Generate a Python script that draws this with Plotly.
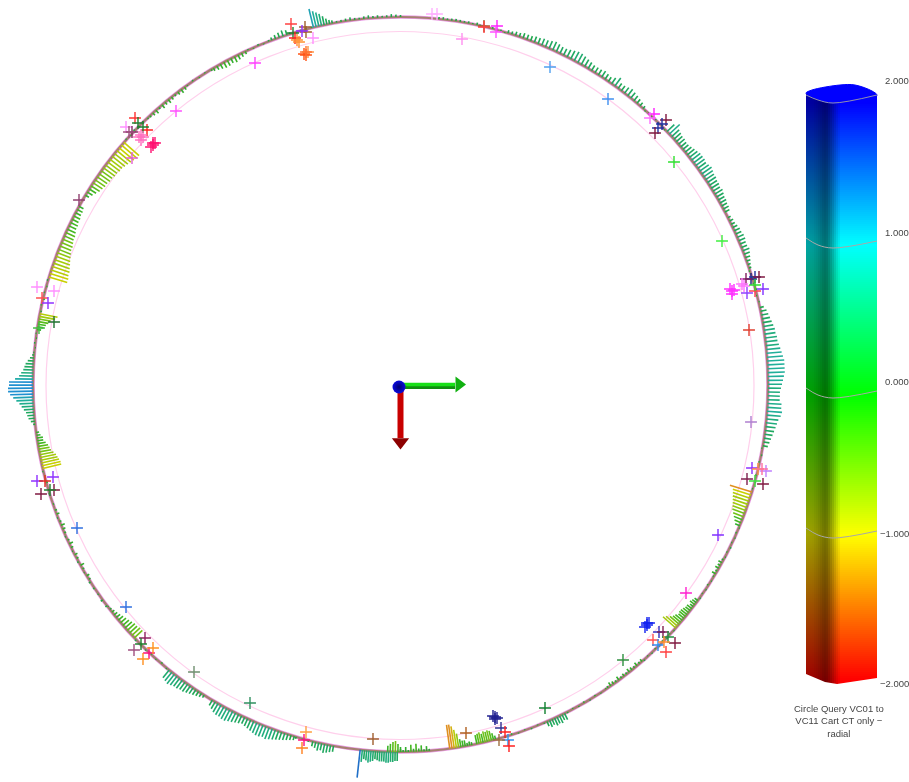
import numpy as np
import plotly.graph_objects as go
from plotly.colors import sample_colorscale

W, H = 909, 782
CX, CY = 400.5, 384.5          # centre of the measured circle
R_OUTER = 367.5
R_INNER = 354.0
UNIT = 20.0                    # radial length of one deviation unit

# needle clusters: azimuth span (deg, clockwise from north) and the deviation of each needle
arc_start = [6, 17, 46.5, 63, 77.9, 107, 118.5, 126, 138.9, 153.5, 165, 168.8, 175.5, 180, 180.5, 190.5,
             196.8, 212.3, 226.4, 238, 256.8, 263.8, 278.6, 287, 301, 317, 329.4, 339.5, 346.3, 350,
             12.5, 41.8, 72, 100, 113, 121.5, 132, 146, 157, 194.5, 219.5, 233, 251, 275, 281.5, 311.8, 324.5, 335.5, 342.5]
arc_end = [12, 41.3, 62, 71.5, 99.6, 112.6, 121, 131.5, 145.6, 156.5, 168, 172.3, 180, 182, 186.3, 193.8,
           210.8, 219, 232.8, 250, 262.5, 274.6, 281.1, 299, 311.2, 324, 335, 342, 349.3, 360,
           16.5, 46, 77, 106.5, 118, 125.5, 138.5, 153, 164.5, 196.5, 226, 237.5, 256.3, 278, 286.5, 316.5, 329, 339, 346]
arc_dev = [
    [.1, .12, .08, .1, .12, .1, .08, .1, .06, .12],
    [.15, .15, .2, .2, .25, .25, .25, .3, .3, .35, .35, .4, .45, .4, .35, .35, .4, .45, .5, .5, .45, .4, .35, .3, .3,
     .3, .35, .3, .25, .35, .5, .3, .3, .35, .4, .35, .3, .25, .2, .15],
    [.5, .7, .5, .45, .4, .4, .35, .35, .4, .45, .5, .55, .55, .55, .5, .55, .6, .55, .5, .5, .45, .45, .4, .45, .4, .35, .35, .3, .3, .25],
    [.15, .2, .2, .25, .3, .3, .35, .35, .3, .3, .35, .3, .25, .2, .15, .12],
    [.2, .3, .35, .4, .45, .5, .55, .55, .6, .6, .65, .7, .75, .8, .85, .85, .85, .85, .8, .75, .7, .65, .6, .6, .6,
     .7, .7, .75, .7, .6, .55, .5, .45, .4, .35, .3, .25],
    [-1.15, -.95, -.9, -.85, -.8, -.75, -.7, -.65, -.55, -.45, -.35, -.25],
    [-.1, -.2, -.15, -.2, -.1, -.2],
    [-.2, -.25, -.3, -.2, -.3, -.3, -.35, -.4, -.4, -.35, -.45, -.5, -.6, -.75, -.85],
    [-.15, -.1, -.2, -.1, -.15, -.2, -.1, -.15, -.1, -.2, -.1, -.15, -.2, -.1],
    [.35, .3, .4, .35, .4, .3, .35, .25],
    [-.2, -.35, -.5, -.55, -.5, -.55, -.45, -.55, -.5, -.45],
    [-.15, -.2, -.15, -.3, -.3, -.4, -.7, -.9, -1.1, -1.2, -1.2],
    [-.1, -.25, -.1, -.3, -.15, -.4, -.15, -.35, -.1, -.25, -.1, -.15],
    [-.25, -.4, -.55, -.5, -.4, -.3],
    [.45, .45, .5, .5, .55, .55, .5, .5, .5, .45, .4, .5, .55, .6, .5, .45, .6, 1.4],
    [.3, .35, .4, .45, .35, .4, .3, .25],
    [.2, .25, .3, .35, .4, .45, .5, .55, .6, .55, .6, .6, .55, .5, .45, .4, .35, .4, .45, .5, .55, .6, .6, .55, .55, .5, .4, .3],
    [.15, .2, .25, .3, .35, .4, .45, .45, .5, .5, .55, .6, .55, .5],
    [-.55, -.55, -.5, -.5, -.45, -.4, -.35, -.3, -.25, -.2, -.15, -.1, -.05],
    [-.1, -.15, .05, -.1, -.2, .08, -.1, -.15, .05, -.12, -.2, -.1, .06, -.1, -.15, -.2, -.1, .06, -.15, -.1],
    [-.95, -.95, -.9, -.85, -.8, -.7, -.6, -.55, -.5, -.4, -.3, -.3, -.2, -.15],
    [.1, .2, .3, .35, .4, .5, .6, .7, .85, 1.0, 1.15, 1.25, 1.25, 1.2, 1.2, .9, .7, .6, .5, .45, .4, .3, .2, .1],
    [-.2, -.3, -.4, -.5, -.6, -.8, -.9],
    [-.95, -.95, -.9, -.9, -.85, -.8, -.75, -.7, -.65, -.6, -.6, -.55, -.5, -.5, -.45, -.4, -.4, -.35, -.35, -.3, -.3, -.25],
    [-.2, -.3, -.4, -.5, -.55, -.6, -.6, -.65, -.65, -.7, -.7, -.75, -.75, -.8, -.85, -.9, -.95, -1.0, -1.0],
    [-.1, -.15, -.2, -.1, -.2, -.15, -.2, -.15, -.1, -.15, -.2, -.15],
    [-.15, -.2, -.25, -.3, -.3, -.25, -.3, -.25, -.2, -.15],
    [.15, .2, .25, .3, .25],
    [.95, .8, .7, .6, .45, .3, .2, .15],
    [.08, .1, .12, .15, .1, .08, .12, .15, .1, .12, .08, .1, .15, .12, .1],
    [.06, -.08, .05, .08, -.06, .07, -.05],
    [-.06, .05, -.08, .06, -.05, .07, -.06],
    [-.07, .05, -.06, .08, -.05, .06],
    [-.05, .06, -.07, .05, -.08, .06, -.05],
    [.05, -.07, .06, -.05, .08, -.06, .05],
    [-.06, .05, -.08, .06, -.05, .07],
    [.05, -.06, .07, -.08, .05, -.06, .06, -.05, .07],
    [-.06, .05, -.07, .06, -.08, .05, -.06, .07],
    [.06, -.05, .07, -.06, .05, -.08, .06, -.05],
    [.08, .06, .1],
    [.06, -.08, .05, -.07, .06, -.05, .08],
    [.1, .12, .06, .08, .1],
    [-.06, .05, -.08, .06],
    [.06, -.05, .07, -.06, .05],
    [-.08, .06, -.1, .05, -.06, .07],
    [.06, -.05, .08, -.06, .05, -.07],
    [-.05, .07, -.06, .05, -.08],
    [.05, -.06, .08, -.05, .07],
    [.08, -.05, .06, .1, .07],
]

# measured point markers
plus_x = [135, 147, 126, 132, 129, 138, 143, 143, 139, 141, 141, 153, 151, 155, 153, 132, 79, 37, 54, 42, 48, 54,
          39, 291, 293, 295, 305, 306, 302, 313, 299, 297, 304, 308, 306, 306, 255, 176,
          432, 437, 462, 484, 484, 497, 496, 550, 608, 654, 650, 666, 662, 658, 655, 674, 722,
          751, 755, 759, 746, 742, 744, 732, 730, 734, 732, 747, 763, 755, 755, 749,
          37, 53, 45, 41, 54, 50, 77, 126, 145, 134, 141, 149, 153, 143, 194, 250, 306, 304, 302, 373,
          751, 752, 766, 758, 762, 747, 763, 755, 718, 686,
          647, 645, 649, 647, 659, 663, 653, 668, 675, 658, 664, 666, 623, 545,
          495, 493, 497, 495, 501, 505, 508, 509, 499, 466]
plus_y = [118, 130, 127, 132, 132, 123, 127, 137, 137, 140, 135, 145, 147, 143, 143, 158, 200, 287, 291, 298, 303, 322,
          328, 24, 33, 38, 27, 32, 31, 38, 42, 40, 54, 52, 55, 52, 63, 111,
          14, 14, 39, 26, 27, 26, 32, 67, 99, 114, 118, 120, 124, 128, 133, 162, 241,
          279, 277, 277, 279, 284, 286, 291, 289, 290, 294, 293, 289, 291, 285, 330,
          481, 477, 481, 494, 490, 490, 528, 607, 638, 650, 644, 653, 648, 659, 672, 703, 732, 740, 748, 739,
          422, 468, 471, 469, 469, 479, 484, 481, 535, 593,
          625, 627, 623, 623, 632, 632, 640, 637, 643, 645, 642, 652, 660, 708,
          717, 716, 718, 719, 728, 732, 740, 746, 740, 733]
plus_color = ["#ff3030", "#ff2020", "#ff90ff", "#803060", "#a05080", "#208030", "#208030", "#ff70c0", "#ff70c0", "#ff70c0", "#ff70c0",
              "#ff1070", "#ff1070", "#ff1070", "#ff1070", "#e060d0", "#904070", "#ff90ff", "#ff90ff", "#ff5050", "#9030ff", "#207030",
              "#40c040", "#ff4040", "#208030", "#ff2020", "#a06030", "#a06030", "#9030ff", "#ff90ff", "#ff9030", "#ff9030",
              "#ff5010", "#ff9040", "#ff5010", "#ff7030", "#ff40ff", "#ff50ff",
              "#ffb0ff", "#ffb0ff", "#ff90f0", "#a06030", "#ff4040", "#ff20ff", "#ff50ff", "#50a0f0", "#4090f0", "#ff20ff", "#ff70ff",
              "#801840", "#2030a0", "#2030a0", "#801840", "#30e030", "#40f040",
              "#202080", "#2030a0", "#801840", "#802060", "#ff70ff", "#ff70ff", "#ff30ff", "#ff30ff", "#ff30ff", "#ff30ff", "#9040ff", "#8030ff", "#ff4050", "#30e030", "#e04030",
              "#9030ff", "#9030ff", "#e03020", "#801840", "#801840", "#208030", "#3070e0", "#3070e0", "#902060", "#a05080", "#208030", "#ff1080", "#ff9020", "#ff9020", "#709070", "#309060", "#ffa040", "#ff1080", "#ff8020", "#a06030",
              "#b080d0", "#9030ff", "#c080ff", "#ff9040", "#ff70a0", "#802050", "#801840", "#40e040", "#8030ff", "#ff20d0",
              "#1020f0", "#1020f0", "#1020f0", "#1020f0", "#3030c0", "#802050", "#ff5050", "#209040", "#801840", "#3090f0", "#ff9030", "#ff4040", "#309040", "#108030",
              "#202090", "#202090", "#202090", "#202090", "#303090", "#ff2020", "#3090f0", "#ff2020", "#a07040", "#b06020"]

# colour key
key_values = [-2, -1, 0, 1, 2]
key_row = [680, 535, 395, 245, 103]
key_colors = ["#ff0000", "#ffff00", "#00ff00", "#00ffff", "#0000ff"]
tick_labels = ["2.000", "1.000", "0.000", "\u22121.000", "\u22122.000"]
tick_row = [80, 232, 381, 533, 683]
tick_col = [883, 883, 883, 878, 878]
key_title = "Circle Query VC01 to<br>VC11 Cart CT only \u2212<br>radial"

needle_scale = [[0, "#d00000"], [.2, "#e09020"], [.25, "#c8d000"], [.325, "#90c810"], [.39, "#48b820"], [.5, "#20a838"],
                [.6, "#20a860"], [.71, "#20b0a0"], [.8, "#2090d0"], [.9, "#2050c0"], [1, "#0000e0"]]

fig = go.Figure()

# needles, grouped by colour bin
groups = {}
for a0, a1, devs in zip(arc_start, arc_end, arc_dev):
    for az, d in zip(np.linspace(a0, a1, len(devs)), devs):
        groups.setdefault(round(d * 10) / 10, []).append((az, d))
for b, items in sorted(groups.items()):
    xs, ys = [], []
    for az, d in items:
        t = np.radians(az)
        for r in (R_OUTER, R_OUTER + d * UNIT):
            xs.append(CX + r * np.sin(t))
            ys.append(CY - r * np.cos(t))
        xs.append(None)
        ys.append(None)
    col = sample_colorscale(needle_scale, [(max(-2, min(2, b)) + 2) / 4])[0]
    fig.add_trace(go.Scatter(x=xs, y=ys, mode="lines", line=dict(color=col, width=1.6), hoverinfo="skip"))

# plus markers
fig.add_trace(go.Scatter(x=plus_x, y=plus_y, mode="markers", hoverinfo="skip",
                         marker=dict(symbol="cross-thin", size=8.5, line=dict(width=1.4, color=plus_color))))

# triad
fig.add_trace(go.Scatter(x=[CX, 455], y=[CY + 1.5, CY + 1.5], mode="lines", line=dict(color="#0f8f0f", width=6), hoverinfo="skip"))
fig.add_trace(go.Scatter(x=[CX, 455], y=[CY, CY], mode="lines", line=dict(color="#18e018", width=3.5), hoverinfo="skip"))
fig.add_trace(go.Scatter(x=[459], y=[CY], mode="markers", marker=dict(symbol="triangle-right", size=14, color="#10b010"), hoverinfo="skip"))
fig.add_trace(go.Scatter(x=[CX, CX], y=[CY, 438], mode="lines", line=dict(color="#c80000", width=6), hoverinfo="skip"))
fig.add_trace(go.Scatter(x=[CX], y=[442], mode="markers", marker=dict(symbol="triangle-down", size=15, color="#8c0000"), hoverinfo="skip"))
fig.add_trace(go.Scatter(x=[399], y=[387], mode="markers", hoverinfo="skip",
                         marker=dict(size=13, color="#0a0ae0", gradient=dict(type="radial", color="#000070"))))

# colour key body
edges = np.linspace(94, 692, 300)
mids = (edges[:-1] + edges[1:]) / 2
z_vals = np.interp(mids, key_row[::-1], key_values[::-1])
scale = [[(v + 2) / 4, c] for v, c in zip(key_values, key_colors)]
fig.add_trace(go.Heatmap(x=[806, 877], y=edges, z=[[v] for v in z_vals], zmin=-2, zmax=2,
                         colorscale=scale, showscale=False, hoverinfo="skip"))
shade_edges = [806, 808, 810, 812, 814, 816, 818, 820, 822, 824, 826, 828, 830, 832, 834, 836, 838, 840, 877]
shade = [.36, .37, .38, .39, .41, .43, .46, .49, .52, .54, .52, .46, .38, .3, .21, .13, .06, 0]
fig.add_trace(go.Heatmap(x=shade_edges, y=[94, 692], z=[shade], zmin=0, zmax=1,
                         colorscale=[[0, "rgba(0,0,0,0)"], [1, "rgba(0,0,0,1)"]], showscale=False, hoverinfo="skip"))
# foot mask, cap and contour bands
fig.add_trace(go.Scatter(x=[804, 806, 825, 837, 877, 879, 879, 804], y=[674, 674, 682, 684, 678, 678, 694, 694],
                         mode="lines", fill="toself", fillcolor="white", line=dict(width=0), hoverinfo="skip"))
fig.add_trace(go.Scatter(x=[806, 812, 840, 855, 872, 877, 875, 835, 826, 808, 806], y=[93, 90, 85, 85, 91, 95, 97, 103, 102, 95, 93],
                         mode="lines", fill="toself", fillcolor="#0000ff", line=dict(color="#0000ff", width=1, shape="spline"), hoverinfo="skip"))
fig.add_trace(go.Scatter(x=[806, 818, 833, 877], y=[95, 100, 103, 95], mode="lines",
                         line=dict(color="#9090b0", width=1, shape="spline"), hoverinfo="skip"))
for offs in (238, 388, 528):
    fig.add_trace(go.Scatter(x=[806, 818, 833, 877], y=[offs, offs + 7, offs + 10, offs + 3], mode="lines",
                             line=dict(color="#a8a8a8", width=1, shape="spline"), hoverinfo="skip"))

annotations = [dict(x=c, y=r, text=t, showarrow=False, xanchor="left", yanchor="middle",
                    font=dict(family="Liberation Sans", size=9.5, color="#444444"))
               for c, r, t in zip(tick_col, tick_row, tick_labels)]
annotations.append(dict(x=839, y=721, text=key_title, showarrow=False, align="center",
                        font=dict(family="Liberation Sans", size=9.5, color="#444444")))

shapes = [
    dict(type="circle", xref="x", yref="y", x0=400 - R_INNER, x1=400 + R_INNER, y0=385.5 - R_INNER, y1=385.5 + R_INNER,
         line=dict(color="#ffd0ec", width=1.2), layer="below"),
    dict(type="circle", xref="x", yref="y", x0=CX - R_OUTER, x1=CX + R_OUTER, y0=CY - R_OUTER, y1=CY + R_OUTER,
         line=dict(color="#ea9ce6", width=3.6), layer="below"),
    dict(type="circle", xref="x", yref="y", x0=CX - R_OUTER, x1=CX + R_OUTER, y0=CY - R_OUTER, y1=CY + R_OUTER,
         line=dict(color="#a58070", width=2.2), layer="below"),
]

fig.update_layout(width=W, height=H, margin=dict(l=0, r=0, t=0, b=0), showlegend=False,
                  plot_bgcolor="white", paper_bgcolor="white", shapes=shapes, annotations=annotations,
                  xaxis=dict(range=[0, W], visible=False, fixedrange=True),
                  yaxis=dict(range=[H, 0], visible=False, fixedrange=True))

fig.write_html("out.html", config=dict(displayModeBar=False),
               post_script="document.body.style.margin='0';document.body.style.overflow='hidden';"
                           "document.querySelector('.plotly-graph-div').style.filter='blur(0.45px)';")
